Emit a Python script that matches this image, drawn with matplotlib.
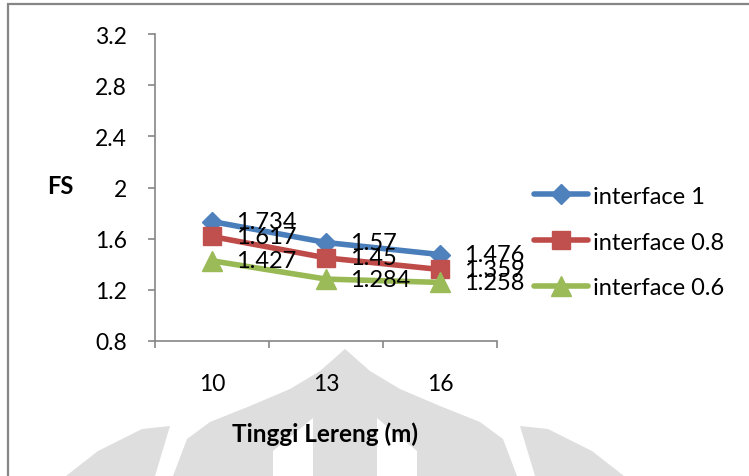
import numpy as np
import matplotlib
matplotlib.use("Agg")
import matplotlib.pyplot as plt
from matplotlib.patches import Polygon, Rectangle

# Chart data
heights = ["10", "13", "16"]
fs_interface_1 = [1.734, 1.57, 1.476]
fs_interface_08 = [1.617, 1.45, 1.359]
fs_interface_06 = [1.427, 1.284, 1.258]
series_names = ["interface 1", "interface 0.8", "interface 0.6"]
y_ticks = [0.8, 1.2, 1.6, 2.0, 2.4, 2.8, 3.2]

plt.rcParams["font.family"] = ["Lato", "DejaVu Sans"]

W, H = 749, 477
fig = plt.figure(figsize=(W / 100, H / 100), dpi=100)

# Faint background emblem
bg = fig.add_axes([0, 0, 1, 1], zorder=-5)
bg.set_xlim(0, W)
bg.set_ylim(H, 0)
bg.axis("off")
wm = "#dedede"
dome = [(345, 350), (320, 372), (290, 390), (250, 407), (210, 423), (187, 440),
        (173, 477), (517, 477), (503, 440), (480, 423), (440, 407), (400, 390),
        (370, 372)]
bg.add_patch(Polygon(dome, closed=True, fc=wm, ec="none"))
bg.add_patch(Polygon([(313, 419), (313, 477), (273, 477), (273, 452)],
                     closed=True, fc="white", ec="none"))
bg.add_patch(Polygon([(377, 419), (377, 477), (417, 477), (417, 452)],
                     closed=True, fc="white", ec="none"))
bg.add_patch(Polygon([(520, 427), (548, 430), (592, 452), (624, 477), (535, 477)],
                     closed=True, fc=wm, ec="none"))
bg.add_patch(Polygon([(170, 427), (142, 430), (98, 452), (66, 477), (155, 477)],
                     closed=True, fc=wm, ec="none"))

# Outer chart border
fig.add_artist(Rectangle((8 / W, -0.1), 1.2, (H - 5) / H + 0.1, transform=fig.transFigure,
                         fill=False, ec="#868686", lw=1.6))

ax = fig.add_axes([155 / W, (H - 342) / H, (497 - 155) / W, (342 - 35) / H], zorder=2)
ax.set_facecolor("none")

x = np.arange(len(heights))
styles = [
    dict(color="#4A7EBB", marker="D", ms=10, mfc="#4F81BD", mec="#4F81BD"),
    dict(color="#BE4B48", marker="s", ms=13, mfc="#C0504D", mec="#C0504D"),
    dict(color="#98B954", marker="^", ms=14, mfc="#9BBB59", mec="#9BBB59"),
]
all_series = [fs_interface_1, fs_interface_08, fs_interface_06]
for vals, name, st in zip(all_series, series_names, styles):
    ax.plot(x, vals, lw=4, label=name, solid_capstyle="round", **st)
    for xi, v in zip(x, vals):
        ax.annotate(f"{v:g}", (xi, v), xytext=(17, 0), textcoords="offset points",
                    ha="left", va="center", fontsize=17, color="black", zorder=5)

ax.set_xlim(-0.5, len(heights) - 0.5)
ax.set_ylim(y_ticks[0], y_ticks[-1])
ax.set_yticks(y_ticks, labels=[f"{t:g}" for t in y_ticks])
ax.set_xticks(x, labels=heights)
ax.set_xticks(np.arange(-0.5, len(heights)), minor=True)

for s in ["top", "right"]:
    ax.spines[s].set_visible(False)
for s in ["left", "bottom"]:
    ax.spines[s].set_color("#868686")
    ax.spines[s].set_linewidth(1.2)

ax.tick_params(axis="y", direction="out", length=5, color="#868686", width=1.2,
               labelsize=16.5, pad=15)
ax.tick_params(axis="x", which="major", length=0, labelsize=16.5, pad=23)
ax.tick_params(axis="x", which="minor", direction="out", length=5, color="#868686", width=1.2)

ax.set_ylabel("FS", rotation=0, fontsize=17, fontweight="bold", va="center", ha="center")
ax.yaxis.set_label_coords(-0.278, 0.505)
ax.set_xlabel("Tinggi Lereng (m)", fontsize=17.5, fontweight="bold", va="center")
ax.xaxis.set_label_coords(0.497, -0.30)

fig.legend(loc="center left", bbox_to_anchor=(534 / W, 1 - 243 / H), frameon=False,
           fontsize=17, handlelength=2.3, handletextpad=0.2, labelspacing=1.05,
           borderpad=0, borderaxespad=0)

fig.savefig("out.png", dpi=100)
